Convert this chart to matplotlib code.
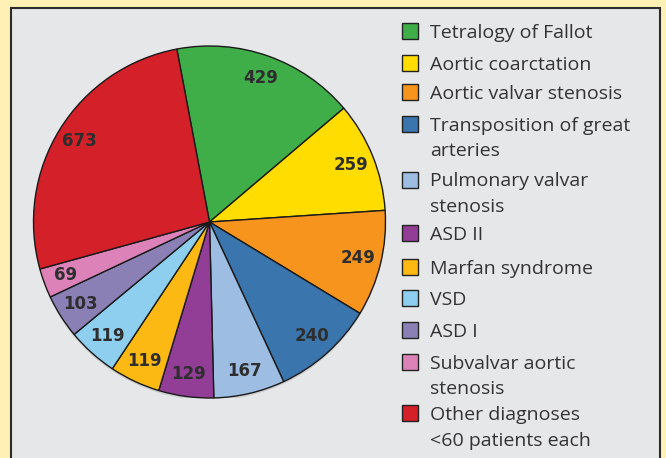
import matplotlib
matplotlib.use("Agg")
import matplotlib.pyplot as plt
from matplotlib.patches import Rectangle, Circle

categories = ["Tetralogy of Fallot", "Aortic coarctation", "Aortic valvar stenosis",
              "Transposition of great\narteries", "Pulmonary valvar\nstenosis", "ASD II",
              "Marfan syndrome", "VSD", "ASD I", "Subvalvar aortic\nstenosis",
              "Other diagnoses\n<60 patients each"]
values = [429, 259, 249, 240, 167, 129, 119, 119, 103, 69, 673]
colors = ["#3FAE49", "#FFDD00", "#F7941D", "#3A75AE", "#9DBDE3", "#923E97",
          "#FDB913", "#8ECFF0", "#8B80B6", "#DD82B8", "#D42028"]

W, H = 666, 458
fig = plt.figure(figsize=(W / 100, H / 100), dpi=100)
fig.patch.set_facecolor("#FFF0B6")

# inner panel
panel = Rectangle((11 / W, -0.05), (660 - 11) / W, (H - 8) / H + 0.05,
                  transform=fig.transFigure, facecolor="#E6E7E9",
                  edgecolor="#2B2B2B", linewidth=1.5, zorder=-10)
fig.patches.append(panel)

cx, cy, r = 209.5, H - 222, 176
ax = fig.add_axes([(cx - r) / W, (cy - r) / H, 2 * r / W, 2 * r / H], zorder=5)
ax.set_facecolor("none")
ax.add_patch(Circle((0.0, -0.013), 1.0, facecolor="#BDBEC0", edgecolor="none",
                    zorder=0, alpha=0.6))
wedges, texts = ax.pie(values, colors=colors, startangle=100.7, counterclock=False,
                       labels=[str(v) for v in values], labeldistance=0.87,
                       wedgeprops=dict(edgecolor="#1A1A1A", linewidth=1.0),
                       textprops=dict(fontsize=12, fontweight="bold", color="#2E2E2E",
                                      family="DejaVu Sans"))
for t in texts:
    t.set_ha("center")
    t.set_va("center")
ax.set_xlim(-1, 1)
ax.set_ylim(-1, 1)
ax.set_aspect("equal")
ax.axis("off")

# legend (manual so markers align with first line)
ys = [30.7, 63, 91.7, 124, 179.5, 233, 267, 298.3, 330, 361.7, 413.3]
sq = 16
for lab, col, y in zip(categories, colors, ys):
    fig.patches.append(Rectangle((402 / W, (H - y - sq / 2) / H), sq / W, sq / H,
                                 transform=fig.transFigure, facecolor=col,
                                 edgecolor="#222222", linewidth=1.0, zorder=6))
    for i, line in enumerate(lab.split("\n")):
        fig.text(430 / W, (H - (y + 7 + 25.5 * i)) / H, line, ha="left", va="baseline",
                 fontsize=14, color="#333333", family="Open Sans",
                 transform=fig.transFigure, zorder=6)

fig.savefig("out.png", dpi=100, facecolor=fig.get_facecolor())
